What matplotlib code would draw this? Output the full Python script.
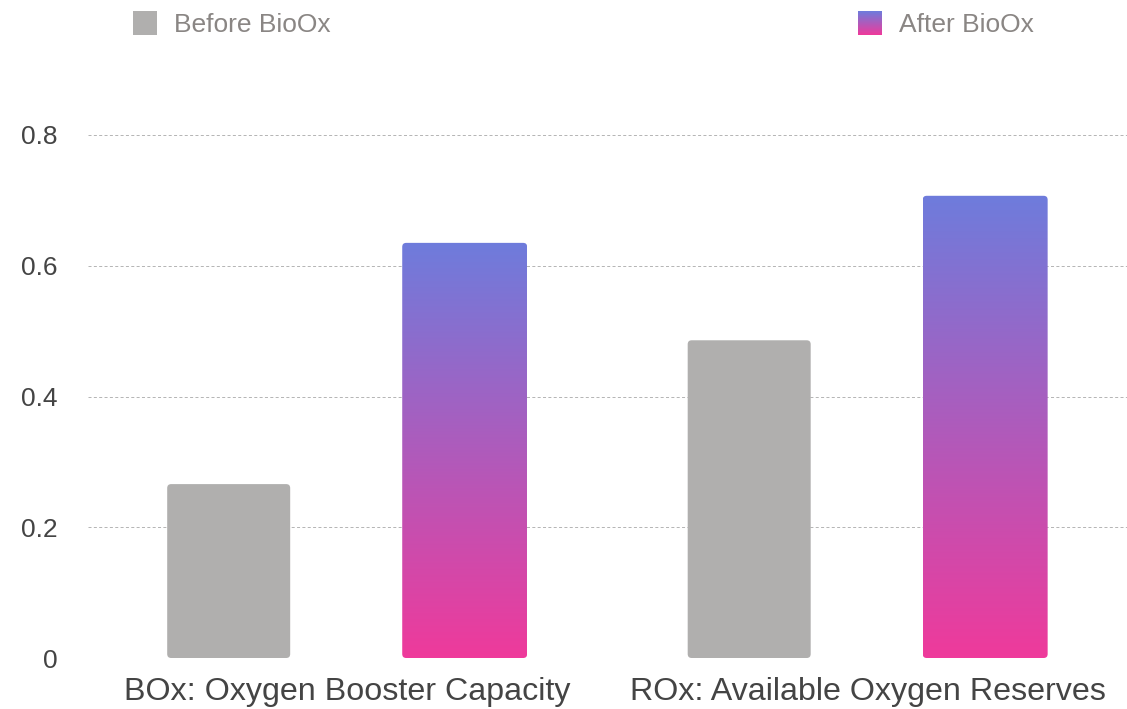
import matplotlib
matplotlib.use('Agg')
import matplotlib.pyplot as plt
import numpy as np
from matplotlib.patches import FancyBboxPatch, Rectangle
from matplotlib.colors import LinearSegmentedColormap

categories = ['BOx: Oxygen Booster Capacity', 'ROx: Available Oxygen Reserves']
before = [0.266, 0.486]
after = [0.635, 0.707]
y_ticks = [0, 0.2, 0.4, 0.6, 0.8]
y_tick_labels = ['0', '0.2', '0.4', '0.6', '0.8']

plt.rcParams['font.family'] = ['Liberation Sans', 'DejaVu Sans']

gray = '#b0afae'
grad = LinearSegmentedColormap.from_list('bioox', ['#ef3a9b', '#6e7cdc'])

fig = plt.figure(figsize=(11.27, 7.09), dpi=100)
ax = fig.add_axes([88 / 1127, 51 / 709, 1041 / 1127, 523 / 709])

x = np.arange(len(categories))
w_before, off_before = 0.2363, -0.2277
w_after, off_after = 0.240, 0.2257
x_per_px = 2.0 / 1041
y_per_px = 0.8 / 523
aspect = y_per_px / x_per_px
rad = 4 * x_per_px

for i in range(len(categories)):
    # grey bar
    x0 = x[i] + off_before - w_before / 2
    p = FancyBboxPatch((x0, 0), w_before, before[i],
                       boxstyle=f'round,pad=0,rounding_size={rad}',
                       mutation_aspect=aspect, facecolor=gray, edgecolor='none', zorder=3)
    ax.add_patch(p)
    # gradient bar
    x0 = x[i] + off_after - w_after / 2
    p = FancyBboxPatch((x0, 0), w_after, after[i],
                       boxstyle=f'round,pad=0,rounding_size={rad}',
                       mutation_aspect=aspect, facecolor='none', edgecolor='none', zorder=3)
    ax.add_patch(p)
    g = np.linspace(0, 1, 256).reshape(-1, 1)
    im = ax.imshow(g, cmap=grad, origin='lower', aspect='auto',
                   extent=[x0, x0 + w_after, 0, after[i]], zorder=3)
    im.set_clip_path(p)

ax.set_xlim(-0.498, 1.502)
ax.set_ylim(0, 0.8)
ax.set_yticks(y_ticks)
ax.set_yticklabels(y_tick_labels)
ax.set_xticks(x)
ax.set_xticklabels(categories)
for yt in y_ticks[1:]:
    ax.axhline(yt, color='#b4b4b4', linestyle=(0, (3.1, 2.4)), linewidth=0.7, zorder=1)
for s in ax.spines.values():
    s.set_visible(False)
ax.tick_params(axis='y', length=0, pad=22, labelsize=19, labelcolor='#444444')
ax.tick_params(axis='x', length=0, pad=14, labelsize=23.2, labelcolor='#444444')

# legend
fig.add_artist(Rectangle((133 / 1127, 1 - 35 / 709), 24 / 1127, 24 / 709,
                         transform=fig.transFigure, facecolor=gray, edgecolor='none'))
fig.text(174 / 1127, 1 - 25 / 709, 'Before BioOx', fontsize=19, color='#8a8684', va='center')
lax = fig.add_axes([858 / 1127, 1 - 35 / 709, 24 / 1127, 24 / 709])
lax.imshow(np.linspace(0, 1, 64).reshape(-1, 1), cmap=grad, origin='lower', aspect='auto')
lax.axis('off')
fig.text(899 / 1127, 1 - 25 / 709, 'After BioOx', fontsize=19, color='#8a8684', va='center')

fig.savefig('out.png', dpi=100)
